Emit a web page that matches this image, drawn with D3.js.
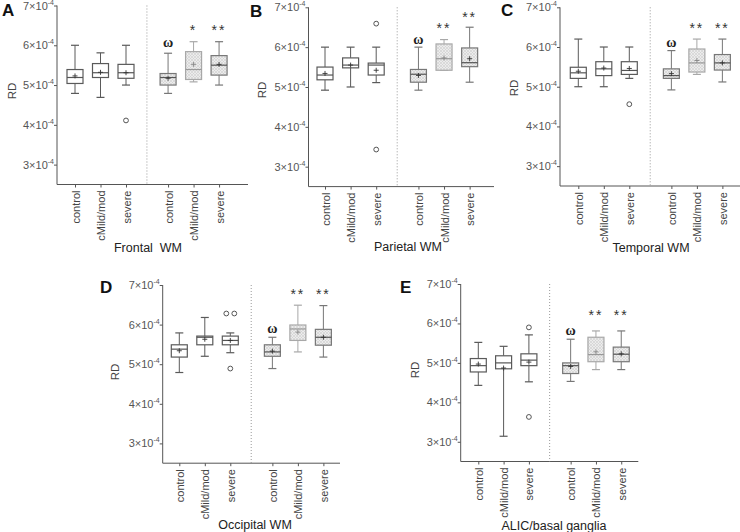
<!DOCTYPE html>
<html><head><meta charset="utf-8">
<script src="https://cdn.jsdelivr.net/npm/d3@7"></script>
<style>body{margin:0;background:#fff}svg{display:block}</style>
</head><body>
<svg id="c" width="740" height="532"></svg>
<script>
// ---- data (values in units of 1e-4) ----
const categories = ["control","cMild/mod","severe","control","cMild/mod","severe"];
const catPos = [0, 1, 2, 3.65, 4.65, 5.65];
const dividerPos = 2.82;
const yTicks = [3, 4, 5, 6, 7];
const panelTitles = ["Frontal  WM", "Parietal WM", "Temporal WM", "Occipital WM", "ALIC/basal ganglia"];
const panelLetters = ["A", "B", "C", "D", "E"];
// each row: [lowWhisker, q1, median, q3, highWhisker, mean]
const frontalBox = [[4.79,5.04,5.19,5.39,6.00,5.23],[4.69,5.19,5.31,5.54,5.81,5.32],[5.00,5.17,5.31,5.52,6.00,5.31],
                    [4.79,5.00,5.19,5.29,5.80,5.17],[5.08,5.14,5.39,5.84,6.09,5.52],[5.00,5.25,5.50,5.74,6.09,5.52]];
const parietalBox = [[4.92,5.18,5.30,5.50,6.00,5.34],[5.00,5.48,5.55,5.73,6.00,5.55],[5.11,5.30,5.55,5.60,6.00,5.42],
                     [4.92,5.12,5.32,5.44,6.00,5.29],[5.42,5.42,5.71,6.08,6.19,5.73],[5.12,5.51,5.61,5.98,6.50,5.71]];
const temporalBox = [[5.00,5.21,5.35,5.49,6.20,5.39],[5.00,5.28,5.45,5.63,6.00,5.47],[5.21,5.31,5.41,5.63,6.00,5.46],
                     [4.92,5.21,5.28,5.45,5.91,5.33],[5.31,5.37,5.60,5.95,6.20,5.66],[5.12,5.42,5.60,5.81,6.20,5.60]];
const occipitalBox = [[4.79,5.18,5.38,5.49,5.79,5.34],[5.20,5.49,5.68,5.71,6.18,5.63],[5.29,5.49,5.60,5.71,5.79,5.60],
                      [4.89,5.20,5.31,5.49,5.68,5.33],[5.31,5.60,5.89,5.99,6.49,5.81],[5.18,5.48,5.68,5.88,6.48,5.68]];
const alicBox = [[4.43,4.77,4.93,5.11,5.52,4.97],[3.14,4.85,5.00,5.18,5.42,4.87],[4.52,4.93,5.07,5.23,5.71,5.02],
                 [4.53,4.73,4.93,5.00,5.60,4.91],[4.83,5.03,5.21,5.65,5.81,5.28],[4.83,5.03,5.22,5.40,5.81,5.23]];
// outliers: [categoryIndex, value]
const frontalOut = [[2, 4.11]];
const parietalOut = [[2, 6.59], [2, 3.43]];
const temporalOut = [[2, 4.56]];
const occipitalOut = [[2, 6.28], [2, 6.28], [2, 4.89]];
const alicOut = [[2, 5.90], [2, 3.63]];
// significance marks and their heights
const frontalMarks = ["", "", "", "ω", "*", "**"];
const frontalMarkY = [0, 0, 0, 6.06, 6.41, 6.41];
const parietalMarks = ["", "", "", "ω", "**", "**"];
const parietalMarkY = [0, 0, 0, 6.18, 6.51, 6.78];
const temporalMarks = ["", "", "", "ω", "**", "**"];
const temporalMarkY = [0, 0, 0, 6.11, 6.51, 6.51];
const occipitalMarks = ["", "", "", "ω", "**", "**"];
const occipitalMarkY = [0, 0, 0, 5.88, 6.81, 6.81];
const alicMarks = ["", "", "", "ω", "**", "**"];
const alicMarkY = [0, 0, 0, 5.81, 6.23, 6.23];

// ---- layout ----
const layouts = [
  {x0:57,    c0:75,    step:25.5, xEnd:248,   yTop:5.5,  yBot:184.5, lx:2,   ly:16,  tx:148, ty:252, rx:12,  ry:91},
  {x0:308.5, c0:325,   step:25.6, xEnd:494,   yTop:7.3,  yBot:186.6, lx:250, ly:17,  tx:408, ty:251, rx:262, ry:90},
  {x0:560,   c0:578.3, step:25.5, xEnd:741,   yTop:7.3,  yBot:186,   lx:501, ly:16,  tx:651, ty:252, rx:514, ry:88},
  {x0:162.7, c0:179.3, step:25.5, xEnd:340,   yTop:285,  yBot:463.2, lx:100, ly:293, tx:255, ty:529, rx:115, ry:372},
  {x0:460.7, c0:478.3, step:25.3, xEnd:638.3, yTop:284,  yBot:461.5, lx:400, ly:293, tx:554, ty:530, rx:415, ry:370}
];
const boxes = [frontalBox, parietalBox, temporalBox, occipitalBox, alicBox];
const outs = [frontalOut, parietalOut, temporalOut, occipitalOut, alicOut];
const marks = [frontalMarks, parietalMarks, temporalMarks, occipitalMarks, alicMarks];
const markYs = [frontalMarkY, parietalMarkY, temporalMarkY, occipitalMarkY, alicMarkY];

const svg = d3.select("#c");
const defs = svg.append("defs");
const pat = defs.append("pattern").attr("id","hatch").attr("patternUnits","userSpaceOnUse")
  .attr("width",3).attr("height",3);
pat.append("rect").attr("width",3).attr("height",3).attr("fill","#ececec");
pat.append("path").attr("d","M0,3L3,0M0,0L3,3").attr("stroke","#cfcfcf").attr("stroke-width",0.6);

const font = "Liberation Sans, Arial, sans-serif";
const boxW = 16, capW = 8;
const strokeFor = i => i < 3 ? "#5a5a5a" : (i === 4 ? "#a8a8a8" : "#777");

layouts.forEach((L, p) => {
  const g = svg.append("g");
  const x = d3.scaleLinear().domain([0, 1]).range([L.c0, L.c0 + L.step]);
  const y = d3.scaleLinear().domain([2.5, 7]).range([L.yBot, L.yTop]);

  // y axis
  const yAx = g.append("g").attr("transform", `translate(${L.x0},0)`)
    .call(d3.axisLeft(y).tickValues(yTicks).tickSize(3).tickFormat(""));
  yAx.select(".domain").attr("d", `M0,${L.yTop}V${L.yBot}`).attr("stroke","#555");
  yAx.selectAll(".tick line").attr("stroke","#555");
  yAx.selectAll(".tick").each(function(d){
    const t = d3.select(this).append("text").attr("x",-9).attr("y",3.5)
      .attr("text-anchor","end").attr("fill","#555").style("font-family",font).style("font-size","11px");
    t.append("tspan").text(d + "×10");
    t.append("tspan").attr("dy",-5).style("font-size","7px").text("-4");
  });
  // shift labels so that superscript ends near axis
  yAx.selectAll(".tick text").attr("x", -3);

  // x axis
  const xAx = g.append("g").attr("transform", `translate(0,${L.yBot})`)
    .call(d3.axisBottom(x).tickValues(catPos).tickSize(3).tickFormat(""));
  xAx.select(".domain").attr("d", `M${L.x0},0H${L.xEnd}`).attr("stroke","#555");
  xAx.selectAll(".tick line").attr("stroke","#555");
  xAx.selectAll(".tick").append("text")
    .attr("transform","rotate(-90)").attr("x",-6).attr("y",4)
    .attr("text-anchor","end").attr("fill","#444")
    .style("font-family",font).style("font-size","11px")
    .text((d,i) => categories[i]);

  // divider
  g.append("line").attr("x1",x(dividerPos)).attr("x2",x(dividerPos))
    .attr("y1",L.yTop).attr("y2",L.yBot)
    .attr("stroke","#999").attr("stroke-width",1).attr("stroke-dasharray","1,2");

  // boxes
  boxes[p].forEach((b, i) => {
    const cx = x(catPos[i]);
    const sc = strokeFor(i);
    const bg = g.append("g");
    bg.append("line").attr("x1",cx).attr("x2",cx).attr("y1",y(b[4])).attr("y2",y(b[3])).attr("stroke",sc);
    bg.append("line").attr("x1",cx).attr("x2",cx).attr("y1",y(b[1])).attr("y2",y(b[0])).attr("stroke",sc);
    [b[0], b[4]].forEach(v => bg.append("line").attr("x1",cx-capW/2).attr("x2",cx+capW/2)
      .attr("y1",y(v)).attr("y2",y(v)).attr("stroke",sc).attr("stroke-width",1.2));
    bg.append("rect").attr("x",cx-boxW/2).attr("width",boxW)
      .attr("y",y(b[3])).attr("height",y(b[1])-y(b[3]))
      .attr("fill", i < 3 ? "#fff" : "url(#hatch)").attr("stroke",sc).attr("stroke-width",1.2);
    bg.append("line").attr("x1",cx-boxW/2).attr("x2",cx+boxW/2)
      .attr("y1",y(b[2])).attr("y2",y(b[2])).attr("stroke",i===4?"#999":"#555").attr("stroke-width",1.2);
    const my = y(b[5]);
    bg.append("path").attr("d",`M${cx-2.5},${my}H${cx+2.5}M${cx},${my-2.5}V${my+2.5}`)
      .attr("stroke",i===4?"#888":"#333").attr("stroke-width",0.9);
  });

  // outliers (identical values are spread side by side)
  const seen = {};
  const groups = d3.rollup(outs[p], v => v.length, d => d[0] + ":" + d[1]);
  outs[p].forEach(o => {
    const key = o[0] + ":" + o[1];
    const n = groups.get(key);
    const k = seen[key] = (seen[key] === undefined ? 0 : seen[key] + 1);
    const off = (k - (n - 1) / 2) * 8;
    g.append("circle").attr("cx", x(catPos[o[0]]) + off).attr("cy", y(o[1])).attr("r",2.4)
      .attr("fill","none").attr("stroke","#555").attr("stroke-width",1);
  });

  // significance marks
  marks[p].forEach((m, i) => {
    if (!m) return;
    const t = g.append("text").attr("x", x(catPos[i])).attr("text-anchor","middle");
    if (m === "ω") {
      t.attr("y", y(markYs[p][i]) + 4).style("font-family","Liberation Serif, DejaVu Serif, serif")
        .style("font-size","14px").style("font-weight","bold").attr("fill","#222").text(m);
    } else {
      t.attr("y", y(markYs[p][i]) + 6).style("font-family",font)
        .style("font-size","14px").attr("fill","#333").style("letter-spacing","2px").text(m);
    }
  });

  // titles and labels
  g.append("text").attr("x",L.tx).attr("y",L.ty).attr("text-anchor","middle")
    .attr("fill","#222").style("font-family",font).style("font-size","12.5px")
    .style("white-space","pre").text(panelTitles[p]);
  g.append("text").attr("transform",`translate(${L.rx},${L.ry}) rotate(-90)`)
    .attr("text-anchor","middle").attr("dy","0.35em").attr("fill","#444")
    .style("font-family",font).style("font-size","11.5px").text("RD");
  g.append("text").attr("x",L.lx).attr("y",L.ly).attr("fill","#111")
    .style("font-family",font).style("font-size","17px").style("font-weight","bold").text(panelLetters[p]);
});
</script>
</body></html>
